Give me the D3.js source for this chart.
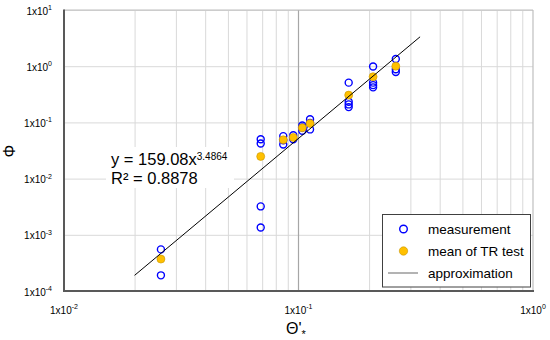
<!DOCTYPE html>
<html><head><meta charset="utf-8">
<script src="https://cdn.jsdelivr.net/npm/d3@7"></script>
<style>body{margin:0;background:#fff}svg{display:block}text{font-family:Arial,"Liberation Sans",sans-serif}</style>
</head><body><svg id="c" width="550" height="340"></svg>
<script>
// Data
const measX = [0.0259,0.0259, 0.069,0.069,0.069,0.069, 0.0861,0.0861,0.0861, 0.095,0.095, 0.1038,0.1038,0.1038, 0.112,0.112,0.112, 0.1637,0.1637,0.1637,0.1637, 0.208,0.208,0.208,0.208, 0.26,0.26,0.26];
const measY = [5.5e-4,1.9e-4, 0.050,0.042,3.2e-3,1.35e-3, 0.057,0.048,0.0405, 0.059,0.050, 0.088,0.081,0.071, 0.114,0.098,0.075, 0.51,0.233,0.209,0.187, 0.99,0.51,0.46,0.42, 1.34,0.88,0.79];
const meanX = [0.0259,0.069,0.0861,0.095,0.1038,0.112,0.1637,0.208,0.26];
const meanY = [3.7e-4,0.0248,0.049,0.054,0.080,0.096,0.306,0.65,1.0];
const fitCoef = 159.08, fitExp = 3.4864, fitR2 = 0.8878;
const fitRange = [0.02, 0.33];
const xTickExp = [-2,-1,0];
const yTickExp = [1,0,-1,-2,-3,-4];
const legendLabels = ["measurement","mean of TR test","approximation"];

const svg = d3.select("#c");
const L=64,R=533,T=10,B=291;
const x = d3.scaleLog().domain([0.01,1]).range([L,R]);
const y = d3.scaleLog().domain([1e-4,10]).range([B,T]);

// vertical grid
const vMinor=[];
[-2,-1].forEach(d=>{for(let k=2;k<=9;k++) vMinor.push(k*Math.pow(10,d));});
svg.append("g").attr("transform",`translate(0,${B})`)
  .call(d3.axisBottom(x).tickValues(vMinor).tickSize(-(B-T)).tickFormat(""))
  .call(g=>{g.select(".domain").remove();g.selectAll("line").attr("stroke","#d9d9d9").attr("stroke-width",1);});
// horizontal grid
svg.append("g").attr("transform",`translate(${L},0)`)
  .call(d3.axisLeft(y).tickValues(yTickExp.map(e=>Math.pow(10,e))).tickSize(-(R-L)).tickFormat(""))
  .call(g=>{g.select(".domain").remove();g.selectAll("line").attr("stroke","#d9d9d9").attr("stroke-width",1);});
// darker 0.1 line
svg.append("line").attr("x1",x(0.1)).attr("x2",x(0.1)).attr("y1",T).attr("y2",B).attr("stroke","#a6a6a6").attr("stroke-width",1.2);
// frame top/right
svg.append("line").attr("x1",L).attr("x2",R).attr("y1",T).attr("y2",T).attr("stroke","#bfbfbf").attr("stroke-width",1.2);
svg.append("line").attr("x1",R).attr("x2",R).attr("y1",T).attr("y2",B).attr("stroke","#bfbfbf").attr("stroke-width",1.2);

// equation box
const eq = svg.append("g");
eq.append("rect").attr("x",106).attr("y",147).attr("width",128).attr("height",41).attr("fill","#fff");
const t1 = eq.append("text").attr("x",111).attr("y",165).attr("font-size",16.5).attr("fill","#000");
t1.append("tspan").text("y = "+fitCoef.toFixed(2)+"x");
t1.append("tspan").attr("font-size",10).attr("dy",-5.5).text(fitExp.toFixed(4));
eq.append("text").attr("x",111).attr("y",183.5).attr("font-size",16.5).attr("fill","#000").text("R² = "+fitR2.toFixed(4));

// axes left/bottom
svg.append("line").attr("x1",L).attr("x2",L).attr("y1",T-0.5).attr("y2",B+1).attr("stroke","#595959").attr("stroke-width",2);
svg.append("line").attr("x1",L-1).attr("x2",R+1).attr("y1",B).attr("y2",B).attr("stroke","#595959").attr("stroke-width",2);

// tick labels
function sup(sel, exp){
  sel.append("tspan").text("1x10");
  sel.append("tspan").attr("font-size",7).attr("dy",-4.5).text(exp);
}
yTickExp.forEach(e=>{
  const t=svg.append("text").attr("x",52).attr("y",y(Math.pow(10,e))+4.5).attr("text-anchor","end").attr("font-size",10).attr("fill","#000");
  sup(t,e);
});
xTickExp.forEach(e=>{
  const t=svg.append("text").attr("x",x(Math.pow(10,e))).attr("y",313.5).attr("text-anchor","middle").attr("font-size",10).attr("fill","#000");
  sup(t,e);
});

// axis titles
const xt = svg.append("text").attr("x",296).attr("y",333.5).attr("text-anchor","middle").attr("font-size",16).attr("fill","#000");
xt.append("tspan").text("Θ'");
xt.append("tspan").attr("font-size",11).attr("dy",4).text("*");
svg.append("text").attr("transform","translate(15,151) rotate(-90)").attr("text-anchor","middle").attr("font-size",16).attr("fill","#000").text("Φ");

// points
svg.append("g").selectAll("circle").data(measX.map((v,i)=>[v,measY[i]])).join("circle")
  .attr("cx",d=>x(d[0])).attr("cy",d=>y(d[1])).attr("r",3.5)
  .attr("fill","none").attr("stroke","#0000ff").attr("stroke-width",1.4);
svg.append("g").selectAll("circle").data(meanX.map((v,i)=>[v,meanY[i]])).join("circle")
  .attr("cx",d=>x(d[0])).attr("cy",d=>y(d[1])).attr("r",4)
  .attr("fill","#ffc000").attr("stroke","#c89600").attr("stroke-width",0.6);

// fit line
const fitPts = fitRange.map(v=>[v, fitCoef*Math.pow(v,fitExp)]);
svg.append("path").attr("d",d3.line().x(d=>x(d[0])).y(d=>y(d[1]))(fitPts)).attr("fill","none").attr("stroke","#000").attr("stroke-width",1);

// legend
const lg = svg.append("g");
lg.append("rect").attr("x",382.5).attr("y",214.5).attr("width",148).attr("height",72.5).attr("fill","#fff").attr("stroke","#404040").attr("stroke-width",1);
const rows=[229,251,273];
lg.append("circle").attr("cx",403.5).attr("cy",rows[0]).attr("r",3.8).attr("fill","none").attr("stroke","#0000ff").attr("stroke-width",1.4);
lg.append("circle").attr("cx",403.5).attr("cy",rows[1]).attr("r",4.2).attr("fill","#ffc000").attr("stroke","#c89600").attr("stroke-width",0.6);
lg.append("line").attr("x1",388).attr("x2",418).attr("y1",rows[2]).attr("y2",rows[2]).attr("stroke","#808080").attr("stroke-width",1.2);
legendLabels.forEach((s,i)=>lg.append("text").attr("x",428).attr("y",rows[i]+5).attr("font-size",13.5).attr("fill","#000").text(s));
</script></body></html>
